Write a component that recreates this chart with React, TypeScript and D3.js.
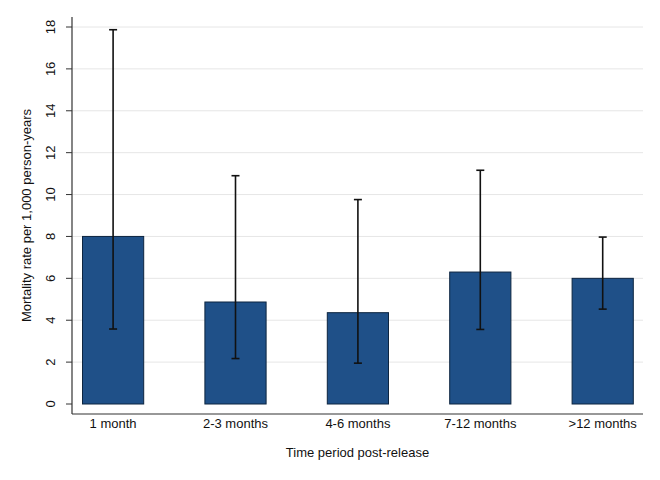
import React from "react";
import * as d3 from "d3";

const categories = ["1 month", "2-3 months", "4-6 months", "7-12 months", ">12 months"];
const rates = [8.0, 4.87, 4.36, 6.3, 6.0];
const lower = [3.58, 2.17, 1.95, 3.56, 4.53];
const upper = [17.87, 10.9, 9.76, 11.16, 7.97];
const yTicks = [0, 2, 4, 6, 8, 10, 12, 14, 16, 18];

const W = 660;
const H = 480;
const plotLeft = 72;
const plotRight = 643;
const plotTop = 17;
const plotBottom = 414;
const font = "'Liberation Sans', Arial, Helvetica, sans-serif";

export default function App() {
  const y = d3.scaleLinear().domain([0, 18]).range([404, 27]);
  const x = d3
    .scaleBand<string>()
    .domain(categories)
    .range([82.5, 633.3])
    .paddingInner(0.5)
    .paddingOuter(0);
  const bw = x.bandwidth();
  const cap = 4;

  return (
    <svg
      width={W}
      height={H}
      style={{ position: "absolute", left: 0, top: 0, background: "#fff" }}
      fontFamily={font}
    >
      <rect x={0} y={0} width={W} height={H} fill="#fff" />
      {yTicks
        .filter((t) => t > 0)
        .map((t) => (
          <line
            key={"g" + t}
            x1={plotLeft}
            x2={plotRight}
            y1={y(t)}
            y2={y(t)}
            stroke="#e6e6e6"
            strokeWidth={1}
          />
        ))}
      {categories.map((c, i) => (
        <rect
          key={"b" + c}
          x={x(c) as number}
          y={y(rates[i])}
          width={bw}
          height={y(0) - y(rates[i])}
          fill="#1f5088"
          stroke="#0d2540"
          strokeWidth={1}
        />
      ))}
      {categories.map((c, i) => {
        const cx = (x(c) as number) + bw / 2;
        return (
          <g key={"e" + c} stroke="#111" strokeWidth={1.6}>
            <line x1={cx} x2={cx} y1={y(upper[i])} y2={y(lower[i])} />
            <line x1={cx - cap} x2={cx + cap} y1={y(upper[i])} y2={y(upper[i])} />
            <line x1={cx - cap} x2={cx + cap} y1={y(lower[i])} y2={y(lower[i])} />
          </g>
        );
      })}
      <line x1={plotLeft} x2={plotLeft} y1={plotTop} y2={plotBottom} stroke="#333" strokeWidth={1.2} />
      <line x1={plotLeft} x2={plotRight} y1={plotBottom} y2={plotBottom} stroke="#333" strokeWidth={1.2} />
      {yTicks.map((t) => (
        <g key={"t" + t}>
          <line x1={plotLeft - 6} x2={plotLeft} y1={y(t)} y2={y(t)} stroke="#333" strokeWidth={1} />
          <text
            transform={`translate(${55},${y(t)}) rotate(-90)`}
            textAnchor="middle"
            fontSize={13}
            fill="#111"
          >
            {t}
          </text>
        </g>
      ))}
      {categories.map((c) => (
        <text
          key={"l" + c}
          x={(x(c) as number) + bw / 2}
          y={428}
          textAnchor="middle"
          fontSize={13}
          fill="#111"
        >
          {c}
        </text>
      ))}
      <text x={(plotLeft + plotRight) / 2} y={457} textAnchor="middle" fontSize={13} fill="#111">
        Time period post-release
      </text>
      <text
        transform={`translate(${31},${(plotTop + plotBottom) / 2}) rotate(-90)`}
        textAnchor="middle"
        fontSize={13}
        fill="#111"
      >
        Mortality rate per 1,000 person-years
      </text>
    </svg>
  );
}
